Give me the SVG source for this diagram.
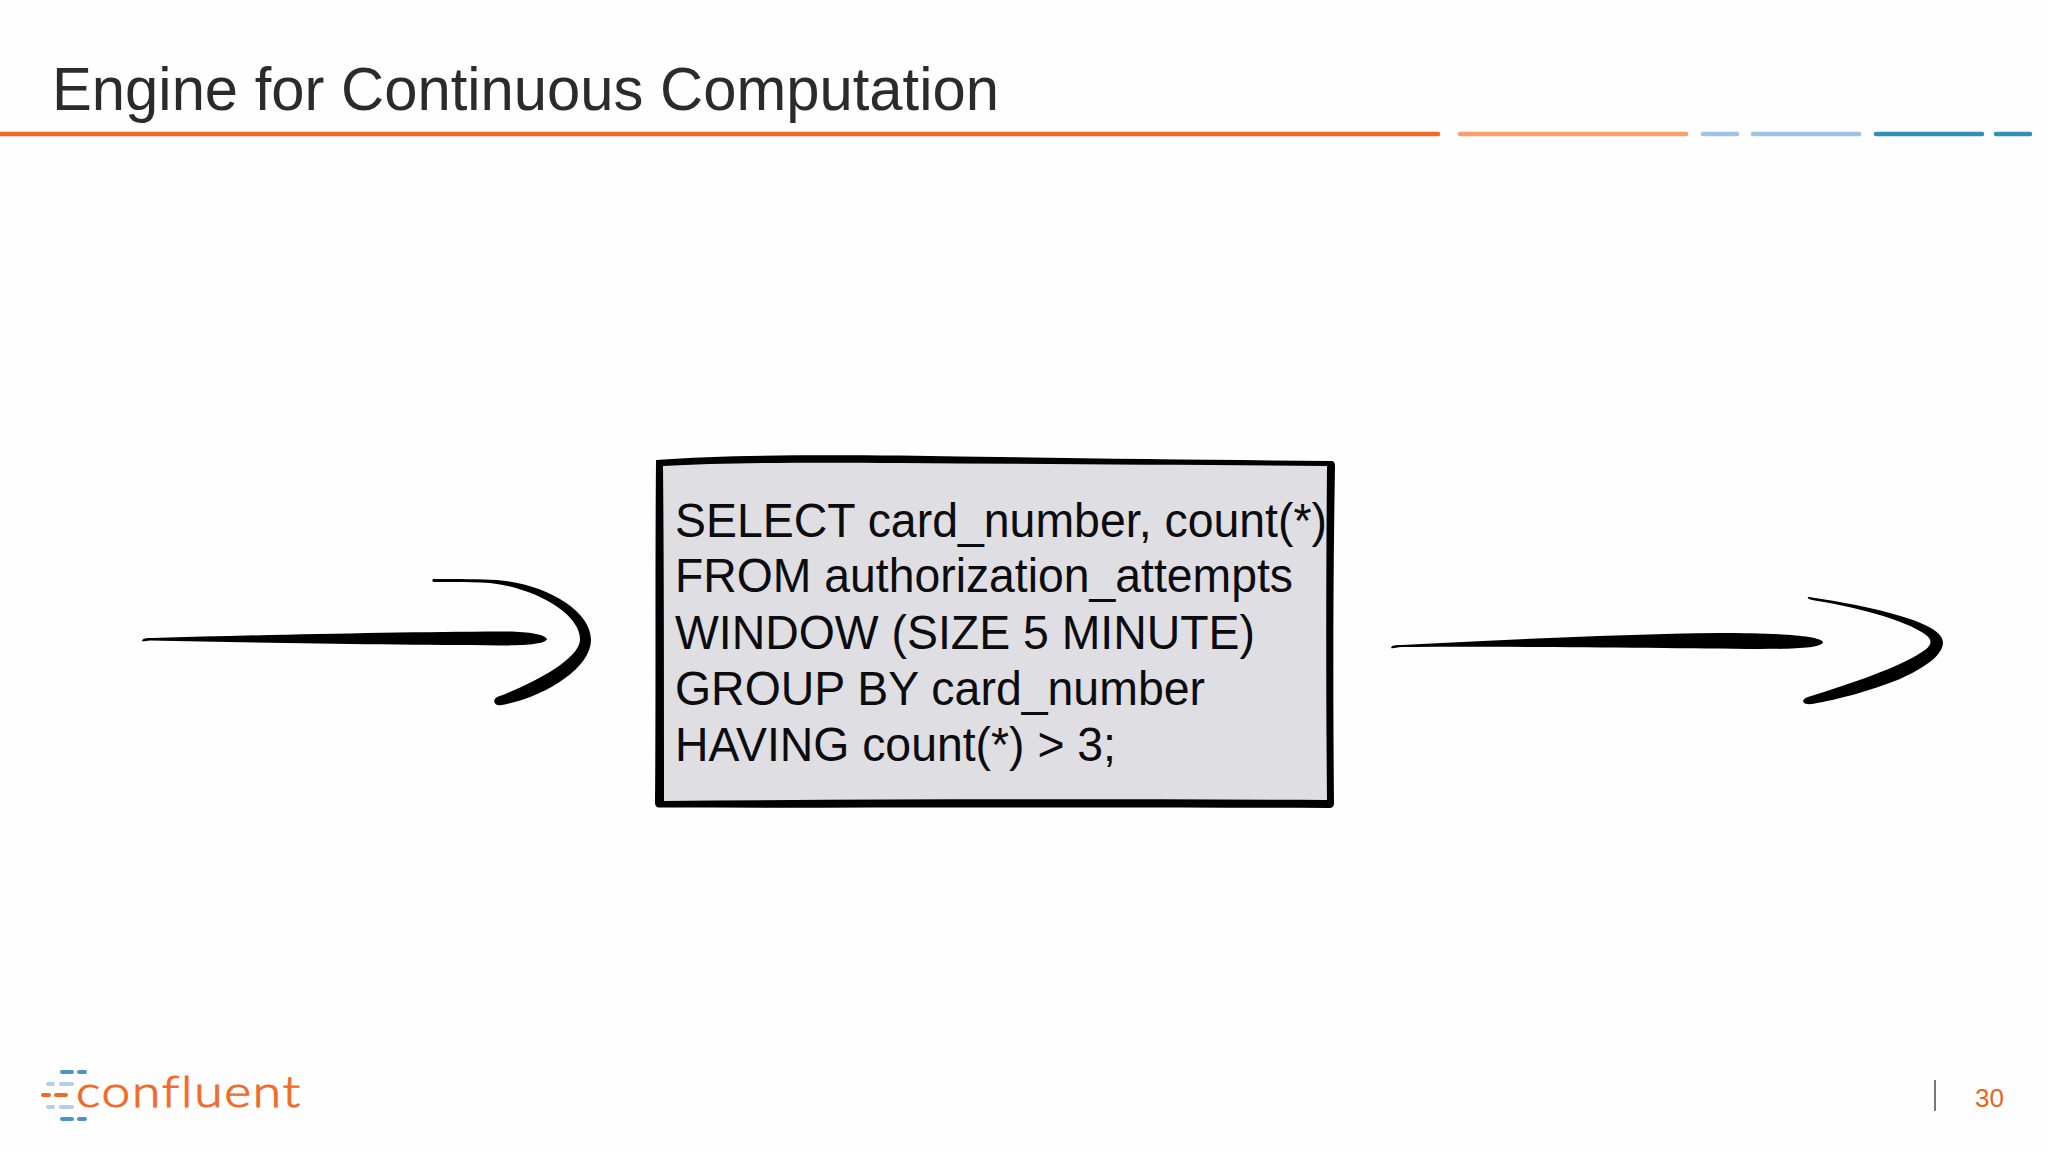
<svg xmlns="http://www.w3.org/2000/svg" width="2048" height="1152" viewBox="0 0 2048 1152">
<style>
.t{font-family:"Liberation Sans",Arial,sans-serif}
.code{font-size:48.500px;fill:#0c0c0e}
.rule{stroke-width:4.5;stroke-linecap:round;fill:none}
.dash{stroke-width:4;stroke-linecap:round;fill:none}
.ink{fill:#000}
</style>
<rect width="2048" height="1152" fill="#fefefe"/>
<g id="title"><text class="t" x="52" y="110" font-size="62" fill="#2b2b2b" textLength="947" lengthAdjust="spacingAndGlyphs">Engine for Continuous Computation</text></g>
<g id="header-rule">
<line class="rule" x1="0" y1="134" x2="1438" y2="134" stroke="#f26a26"/>
<line class="rule" x1="1460" y1="134" x2="1686" y2="134" stroke="#fb9e6c"/>
<line class="rule" x1="1703" y1="134" x2="1737" y2="134" stroke="#9fc3e4"/>
<line class="rule" x1="1753" y1="134" x2="1859" y2="134" stroke="#9fc3e4"/>
<line class="rule" x1="1876" y1="134" x2="1982" y2="134" stroke="#2f8fb4"/>
<line class="rule" x1="1996" y1="134" x2="2030" y2="134" stroke="#2f8fb4"/>
</g>
<g id="connectors">
<g id="arrow-in">
<path class="ink" d="M142 641 C143 638 146 638 152 638 C260 635 400 632 500 631.500 C525 631 545 634 547 639 C546 644 525 645.500 500 645.500 C400 645 260 643 150 640.500 C146 640.500 144 642 142 641Z"/>
<path class="ink" d="M433 579 C460 579 480 579 497 580 C545 584 591 610 591 640 C591 668 545 697 502 705 C494 707 492 700 497 697 C530 685 579 660 580 640 C581 614 535 588 490 583 C470 581.500 450 582 434 582 C432 582 432 580 433 579Z"/>
</g>
<g id="arrow-out">
<path class="ink" d="M1391 648 C1392 645 1395 645 1402 645 C1500 640 1620 634 1720 633 C1770 633 1820 635 1823 642 C1822 648 1795 649 1760 649 C1660 648 1500 646 1402 647 C1396 647 1393 649 1391 648Z"/>
<path class="ink" d="M1809 597 C1850 603 1900 613 1925 625 C1938 631 1943 637 1943 643 C1942 655 1928 666 1900 679 C1870 691 1840 699 1812 704 C1802 705 1800 700 1808 697 C1850 684 1900 667 1922 652 C1932 646 1933 640 1926 635 C1905 619 1850 606 1812 600 C1807 599 1807 597 1809 597Z"/>
</g>
</g>
<g id="query-node">
<path fill="#dfdee2" d="M660 462 L1330 462 L1330 804 L660 804Z"/>
<path class="ink" fill-rule="evenodd" d="M656 460 C720 455 800 455 900 455.500 C1050 458 1200 460 1331 461 C1334 461 1335 463 1335 466 C1333 580 1333 700 1334 803 C1334 807 1332 808 1329 808 C1120 807 900 808 660 807.500 C656 808 655 805 655 802 C656 690 655 570 656 460Z M663 466 C664 570 664 690 664 801 C880 799 1100 799 1327 800 C1326 700 1326 580 1327 466 C1200 465 1050 464 900 463 C800 462 720 463 663 466Z"/>
<text class="t code" x="675" y="537" textLength="652" lengthAdjust="spacingAndGlyphs">SELECT card_number, count(*)</text>
<text class="t code" x="675" y="592" textLength="618" lengthAdjust="spacingAndGlyphs">FROM authorization_attempts</text>
<text class="t code" x="675" y="649" textLength="580" lengthAdjust="spacingAndGlyphs">WINDOW (SIZE 5 MINUTE)</text>
<text class="t code" x="675" y="705" textLength="530" lengthAdjust="spacingAndGlyphs">GROUP BY card_number</text>
<text class="t code" x="675" y="761" textLength="441" lengthAdjust="spacingAndGlyphs">HAVING count(*) &gt; 3;</text>
</g>
<g id="logo">
<g class="dash">
<line x1="62" y1="1072" x2="72" y2="1072" stroke="#4c94c4"/><line x1="79" y1="1072" x2="85" y2="1072" stroke="#4c94c4"/>
<line x1="48" y1="1084" x2="53" y2="1084" stroke="#b5cde8"/><line x1="61" y1="1084" x2="72" y2="1084" stroke="#b5cde8"/>
<line x1="43" y1="1095" x2="49" y2="1095" stroke="#f26a26"/><line x1="56" y1="1095" x2="66" y2="1095" stroke="#f26a26"/>
<line x1="48" y1="1107" x2="53" y2="1107" stroke="#b5cde8"/><line x1="61" y1="1107" x2="72" y2="1107" stroke="#b5cde8"/>
<line x1="62" y1="1119" x2="72" y2="1119" stroke="#4c94c4"/><line x1="79" y1="1119" x2="85" y2="1119" stroke="#4c94c4"/>
</g>
<text x="76" y="1107" font-family="Lato,'Liberation Sans',sans-serif" font-weight="300" font-size="44" fill="#f26a26" stroke="#f26a26" stroke-width="1" letter-spacing="1.500" textLength="226" lengthAdjust="spacingAndGlyphs">confluent</text>
</g>
<g id="footer">
<line x1="1935" y1="1080" x2="1935" y2="1111" stroke="#777" stroke-width="2"/>
<text class="t" x="1975" y="1107" font-size="26" fill="#e8641f">30</text>
</g>
</svg>
